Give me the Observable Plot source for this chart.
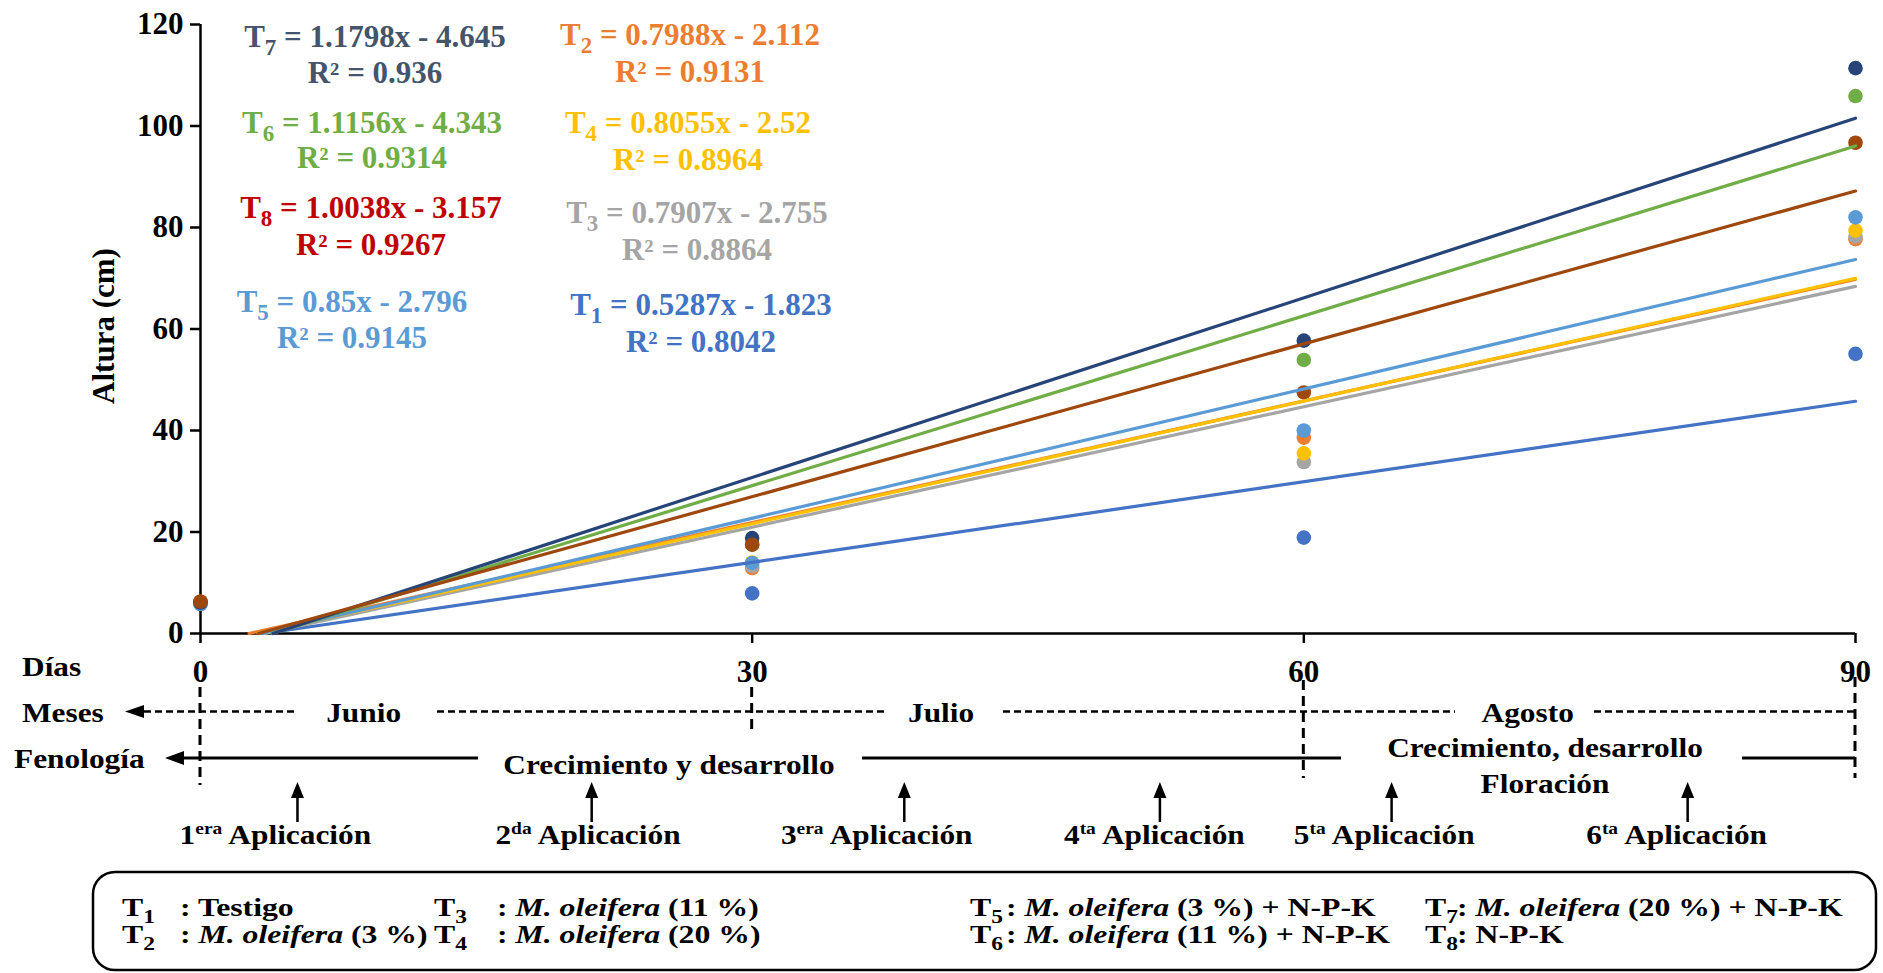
<!DOCTYPE html>
<html>
<head>
<meta charset="utf-8">
<script src="https://cdn.jsdelivr.net/npm/d3@7"></script>
<script src="https://cdn.jsdelivr.net/npm/@observablehq/plot@0.6"></script>
<style>
  html, body { margin: 0; padding: 0; background: #fff; }
  svg { display: block; }
</style>
</head>
<body>
<div id="chart"></div>
<script>
// ---------------- data ----------------
const days = [0, 30, 60, 90];
const treatments = ["T1", "T2", "T3", "T4", "T5", "T6", "T7", "T8"];
const t1 = [5.8, 7.9, 18.9, 55.1];
const t2 = [6.1, 12.9, 38.6, 77.7];
const t3 = [6.0, 13.3, 33.8, 78.2];
const t4 = [6.0, 14.0, 35.5, 79.4];
const t5 = [5.9, 13.9, 40.0, 82.0];
const t6 = [6.2, 17.5, 53.9, 105.9];
const t7 = [6.1, 18.8, 57.7, 111.4];
const t8 = [6.3, 17.5, 47.5, 96.7];
const slopes = [0.5287, 0.7988, 0.7907, 0.8055, 0.85, 1.1156, 1.1798, 1.0038];
const intercepts = [-1.823, -2.112, -2.755, -2.52, -2.796, -4.343, -4.645, -3.157];
const r2 = [0.8042, 0.9131, 0.8864, 0.8964, 0.9145, 0.9314, 0.936, 0.9267];
const yTicks = [0, 20, 40, 60, 80, 100, 120];
const yLabel = "Altura (cm)";
const monthNames = ["Junio", "Julio", "Agosto"];
const applicationNums = ["1", "2", "3", "4", "5", "6"];
const applicationSups = ["era", "da", "era", "ta", "ta", "ta"];
const applicationDays = [5.3, 21.3, 38.3, 52.2, 64.8, 80.9];
const legendDescs = [
  [{text: ": Testigo"}],
  [{text: ": "}, {text: "M. oleifera", italic: true}, {text: " (3 %)"}],
  [{text: ": "}, {text: "M. oleifera", italic: true}, {text: " (11 %)"}],
  [{text: ": "}, {text: "M. oleifera", italic: true}, {text: " (20 %)"}],
  [{text: ": "}, {text: "M. oleifera", italic: true}, {text: " (3 %) + N-P-K"}],
  [{text: ": "}, {text: "M. oleifera", italic: true}, {text: " (11 %) + N-P-K"}],
  [{text: ": "}, {text: "M. oleifera", italic: true}, {text: " (20 %) + N-P-K"}],
  [{text: ": N-P-K"}]
];

// ---------------- styles ----------------
const seriesColors = ["#4472C4", "#ED7D31", "#A5A5A5", "#FFC000", "#5B9BD5", "#70AD47", "#264478", "#9E480E"];
const eqColors = ["#4472C4", "#ED7D31", "#A5A5A5", "#FFC000", "#5B9BD5", "#70AD47", "#44546A", "#C00000"];
const FONT = "'Liberation Serif', 'Times New Roman', serif";

// ---------------- tables ----------------
const series = [t1, t2, t3, t4, t5, t6, t7, t8];
const points = treatments.flatMap((t, i) => days.map((d, j) => ({t, day: d, h: series[i][j]})));
const trend = treatments.flatMap((t, i) => {
  const m = slopes[i], b = intercepts[i];
  const xa = Math.max(days[0], -b / m), xb = days[days.length - 1];
  return [{t, day: xa, h: m * xa + b}, {t, day: xb, h: m * xb + b}];
});

// ---------------- chart ----------------
const plot = Plot.plot({
  width: 1883,
  height: 973,
  marginLeft: 200,
  marginRight: 28,
  marginTop: 24,
  marginBottom: 340,
  style: {fontFamily: FONT, fontSize: "31px", fontWeight: "bold", color: "#000", background: "#fff", overflow: "visible"},
  x: {domain: [0, 90]},
  y: {domain: [0, 120]},
  color: {domain: treatments, range: seriesColors},
  marks: [
    Plot.axisY({ticks: yTicks, tickSize: 10, tickPadding: 7, strokeWidth: 2.5, label: null, tickFormat: d => String(d)}),
    Plot.axisX({ticks: days, tickSize: 10, tickPadding: 16, strokeWidth: 2.5, label: null, tickFormat: d => String(d)}),
    Plot.ruleX([0], {stroke: "#000", strokeWidth: 2.5}),
    Plot.ruleY([0], {stroke: "#000", strokeWidth: 2.5}),
    Plot.dot(points, {x: "day", y: "h", fill: "t", r: 7.3}),
    Plot.line(trend, {x: "day", y: "h", stroke: "t", z: "t", strokeWidth: 3.2})
  ]
});
document.getElementById("chart").appendChild(plot);

// ---------------- annotations ----------------
const sx = plot.scale("x").apply;
const svg = d3.select(plot);
const g = svg.append("g").attr("font-family", FONT).attr("font-weight", "bold").attr("fill", "#000");

function richText(parent, x, y, parts, opt = {}) {
  const size = opt.size || 28, stretch = opt.stretch || 1;
  const t = parent.append("text")
    .attr("transform", `translate(${x},${y}) scale(${stretch},1)`)
    .attr("text-anchor", opt.anchor || "start")
    .attr("font-size", size)
    .attr("fill", opt.fill || "#000");
  let shift = 0;
  for (const p of parts) {
    const s = typeof p === "string" ? {text: p} : p;
    let target = 0, fs = size;
    if (s.sub) { target = size * 0.27; fs = size * 0.74; }
    if (s.sup) { target = -size * 0.36; fs = size * 0.62; }
    const span = t.append("tspan").text(s.text).attr("font-size", fs).attr("dy", target - shift);
    if (s.italic) span.attr("font-style", "italic");
    shift = target;
  }
  return t;
}

// y-axis title
g.append("text")
  .attr("transform", "translate(114,326) rotate(-90)")
  .attr("text-anchor", "middle")
  .attr("font-size", 31)
  .text(yLabel);

// regression equations (label layout)
const eqLayout = {
  T7: [375, 47, 83], T6: [372, 133, 168], T8: [371, 218, 255], T5: [352, 312, 348],
  T2: [690, 45, 82], T4: [688, 133, 170], T3: [697, 223, 260], T1: [701, 315, 352]
};
treatments.forEach((t, i) => {
  const [x, ya, yb] = eqLayout[t];
  richText(g, x, ya, ["T", {text: String(i + 1), sub: true}, ` = ${slopes[i]}x - ${Math.abs(intercepts[i])}`],
    {size: 31, anchor: "middle", fill: eqColors[i]});
  richText(g, x, yb, [`R² = ${r2[i]}`], {size: 31, anchor: "middle", fill: eqColors[i]});
});

// lower timeline
const S = 1.12, FS = 28;
richText(g, 22, 676, ["Días"], {size: FS, stretch: S});
richText(g, 22, 722, ["Meses"], {size: FS, stretch: S});
richText(g, 14, 768, ["Fenología"], {size: FS, stretch: S});

// vertical dashed guides at day ticks
const guideY = [[687, 785], [687, 732], [680, 778], [677, 778]];
days.forEach((d, i) => {
  g.append("line").attr("x1", sx(d)).attr("x2", sx(d)).attr("y1", guideY[i][0]).attr("y2", guideY[i][1])
    .attr("stroke", "#000").attr("stroke-width", 3).attr("stroke-dasharray", "10,6");
});

// months row
const mY = 711.5;
g.append("path").attr("d", `M125,${mY} L144,${mY - 6.5} L144,${mY + 6.5} Z`).attr("fill", "#000");
[[144, 296], [437, 886], [1003, 1455], [1594, 1855]].forEach(([a, b]) => {
  g.append("line").attr("x1", a).attr("x2", b).attr("y1", mY).attr("y2", mY)
    .attr("stroke", "#000").attr("stroke-width", 2.5).attr("stroke-dasharray", "7,4");
});
const monthDays = [8.9, 40.3, 72.2];
monthNames.forEach((m, i) => richText(g, sx(monthDays[i]), 722, [m], {size: FS, stretch: S, anchor: "middle"}));

// phenology row
const fY = 758;
g.append("path").attr("d", `M165,${fY} L184,${fY - 7} L184,${fY + 7} Z`).attr("fill", "#000");
[[182, 478], [862, 1341], [1742, 1855]].forEach(([a, b]) => {
  g.append("line").attr("x1", a).attr("x2", b).attr("y1", fY).attr("y2", fY)
    .attr("stroke", "#000").attr("stroke-width", 3);
});
richText(g, 669, 774, ["Crecimiento y desarrollo"], {size: FS, stretch: S, anchor: "middle"});
richText(g, 1545, 757, ["Crecimiento, desarrollo"], {size: FS, stretch: S, anchor: "middle"});
richText(g, 1545, 793, ["Floración"], {size: FS, stretch: S, anchor: "middle"});

// application arrows + labels
const appLabelDays = [4.1, 21.1, 36.8, 51.9, 64.4, 80.3];
applicationDays.forEach((d, i) => {
  const x = sx(d);
  g.append("path").attr("d", `M${x},782 L${x - 6.5},798 L${x + 6.5},798 Z`).attr("fill", "#000");
  g.append("line").attr("x1", x).attr("x2", x).attr("y1", 796).attr("y2", 822)
    .attr("stroke", "#000").attr("stroke-width", 2.5);
  richText(g, sx(appLabelDays[i]), 844,
    [applicationNums[i], {text: applicationSups[i], sup: true}, " Aplicación"],
    {size: FS, stretch: S, anchor: "middle"});
});

// legend box
g.append("rect").attr("x", 93).attr("y", 872).attr("width", 1783).attr("height", 98)
  .attr("rx", 22).attr("ry", 22).attr("fill", "none").attr("stroke", "#000").attr("stroke-width", 2.5);
const legCols = [[122, 180], [434, 497], [970, 1006], [1425, 1457]];
const legRows = [916, 943];
treatments.forEach((t, i) => {
  const col = legCols[Math.floor(i / 2)], row = legRows[i % 2];
  richText(g, col[0], row, ["T", {text: String(i + 1), sub: true}], {size: 25, stretch: 1.27});
  richText(g, col[1], row, legendDescs[i], {size: 25, stretch: 1.27});
});
</script>
</body>
</html>
